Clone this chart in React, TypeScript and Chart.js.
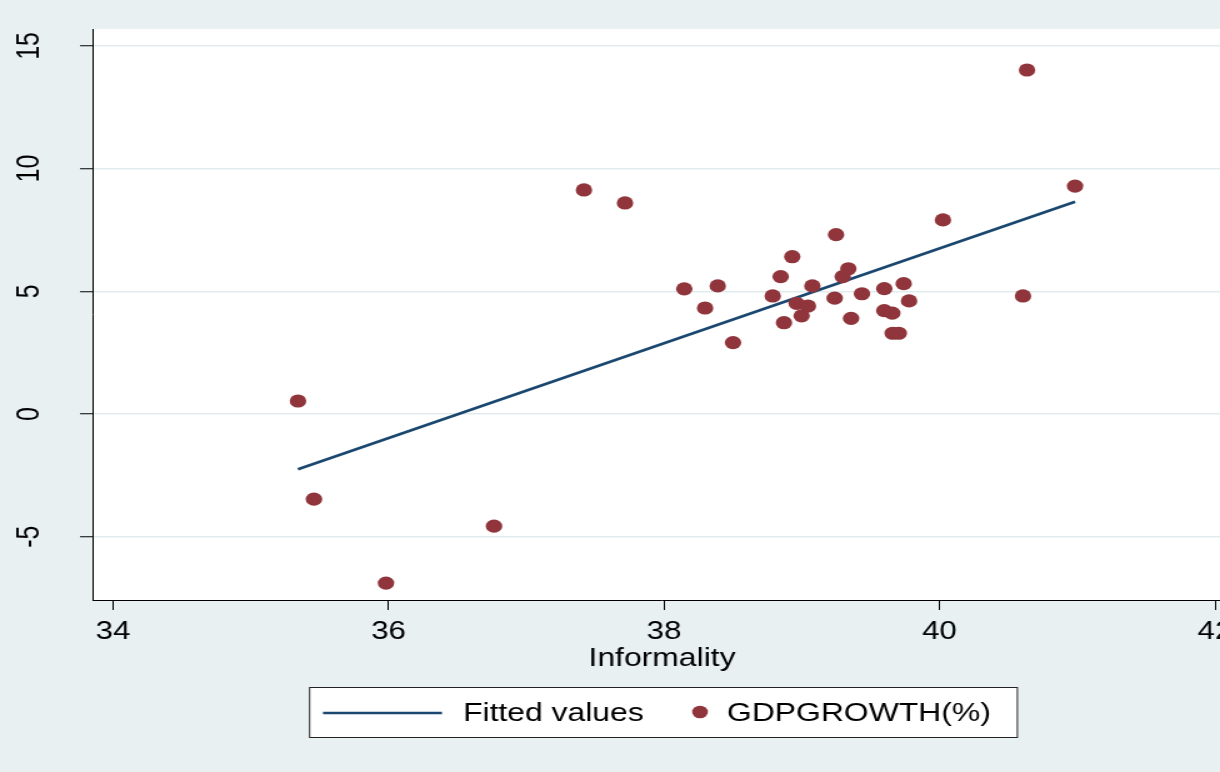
import React, { useEffect, useRef } from "react";
import { Chart, registerables } from "chart.js";

Chart.register(...registerables);

// ---- data ----
const informality = [
  35.343, 35.459, 35.982, 36.766, 37.419, 37.717, 38.147, 38.298, 38.39, 38.501,
  38.789, 38.847, 38.871, 38.931, 38.963, 38.999, 39.045, 39.077, 39.249, 39.239,
  39.297, 39.338, 39.358, 39.437, 39.599, 39.599, 39.657, 39.66, 39.704, 39.74,
  39.779, 40.025, 40.606, 40.635, 40.984,
];
const gdpGrowth = [
  0.53, -3.47, -6.89, -4.57, 9.13, 8.6, 5.1, 4.32, 5.22, 2.91,
  4.81, 5.6, 3.72, 6.41, 4.51, 4.0, 4.4, 5.22, 7.31, 4.72,
  5.6, 5.92, 3.9, 4.9, 5.11, 4.21, 4.11, 3.29, 3.29, 5.31,
  4.61, 7.91, 4.81, 14.02, 9.29,
];
const fittedX = [35.343, 40.984];
const fittedY = [-2.25, 8.65];
const xTicks = [34, 36, 38, 40, 42];
const yTicks = [-5, 0, 5, 10, 15];
const xTitle = "Informality";
const fittedLabel = "Fitted values";
const seriesLabel = "GDPGROWTH(%)";

// ---- styling ----
const NAVY = "#1A476F";
const MAROON = "#90353B";
const BG = "#E8F0F2";
const GRID = "#E2EBEE";
const FONT = '"Liberation Sans", Arial, Helvetica, sans-serif';

// horizontal stretch of the whole picture (as in the reference)
const SX = 1.25;
const W_ACT = 1260;
const H = 772;
const W = W_ACT / SX;

export default function App() {
  const ref = useRef<HTMLCanvasElement>(null);

  useEffect(() => {
    const canvas = ref.current;
    if (!canvas) return;

    const deco = {
      id: "deco",
      beforeDraw(chart: any) {
        const { ctx, chartArea: a } = chart;
        ctx.save();
        ctx.fillStyle = BG;
        ctx.fillRect(0, 0, chart.width, chart.height);
        ctx.fillStyle = "#ffffff";
        ctx.fillRect(a.left, a.top, a.right - a.left, a.bottom - a.top);
        ctx.restore();
      },
      afterDraw(chart: any) {
        const { ctx } = chart;
        const ys = chart.scales.y;
        ctx.save();
        ctx.fillStyle = "#000";
        ctx.font = `25px ${FONT}`;
        ctx.textAlign = "center";
        ctx.textBaseline = "middle";
        for (const v of yTicks) {
          const py = ys.getPixelForValue(v);
          ctx.save();
          ctx.translate(24, py);
          ctx.rotate(-Math.PI / 2);
          ctx.fillText(String(v), 0, 0);
          ctx.restore();
        }
        // legend
        const lx0 = 309 / SX, lx1 = 1018 / SX, ly0 = 687, ly1 = 738;
        ctx.fillStyle = "#ffffff";
        ctx.fillRect(lx0, ly0, lx1 - lx0, ly1 - ly0);
        ctx.strokeStyle = "#222";
        ctx.lineWidth = 1;
        ctx.strokeRect(lx0 + 0.5, ly0 + 0.5, lx1 - lx0 - 1, ly1 - ly0 - 1);
        ctx.strokeStyle = NAVY;
        ctx.lineWidth = 2.5;
        ctx.beginPath();
        ctx.moveTo(323 / SX, 713);
        ctx.lineTo(442 / SX, 713);
        ctx.stroke();
        ctx.fillStyle = MAROON;
        ctx.beginPath();
        ctx.arc(700 / SX, 712, 6.3, 0, Math.PI * 2);
        ctx.fill();
        ctx.fillStyle = "#000";
        ctx.font = `25.5px ${FONT}`;
        ctx.textAlign = "left";
        ctx.textBaseline = "middle";
        ctx.fillText(fittedLabel, 463 / SX, 714);
        ctx.fillText(seriesLabel, 727 / SX, 714);
        ctx.restore();
      },
    };

    const chart = new Chart(canvas, {
      type: "scatter",
      data: {
        datasets: [
          {
            label: seriesLabel,
            data: informality.map((x, i) => ({ x, y: gdpGrowth[i] })),
            backgroundColor: MAROON,
            borderWidth: 0,
            pointRadius: 6.6,
            pointHoverRadius: 6.6,
          },
          {
            label: fittedLabel,
            data: fittedX.map((x, i) => ({ x, y: fittedY[i] })),
            showLine: true,
            borderColor: NAVY,
            borderWidth: 2.6,
            pointRadius: 0,
            fill: false,
          } as any,
        ],
      },
      options: {
        responsive: false,
        animation: false,
        devicePixelRatio: 1,
        events: [],
        layout: { padding: { left: 0, right: W - 1231 / SX, top: 29, bottom: H - 600 - 80 } },
        plugins: { legend: { display: false }, tooltip: { enabled: false } },
        scales: {
          x: {
            type: "linear",
            min: 33.855,
            max: 42.116,
            afterBuildTicks: (s: any) => {
              s.ticks = xTicks.map((v) => ({ value: v }));
            },
            afterFit: (s: any) => {
              s.height = 80;
            },
            ticks: {
              color: "#000",
              font: { family: FONT, size: 25 },
              padding: 7,
              maxRotation: 0,
              minRotation: 0,
            },
            grid: {
              drawOnChartArea: false,
              drawTicks: true,
              tickLength: 10,
              tickColor: "#000",
              tickWidth: 1,
            },
            border: { display: true, color: "#000", width: 1 },
            title: {
              display: true,
              text: xTitle,
              color: "#000",
              font: { family: FONT, size: 25.5 },
              padding: { top: 0, bottom: 5.5 },
            },
          },
          y: {
            type: "linear",
            min: -7.58,
            max: 15.69,
            afterBuildTicks: (s: any) => {
              s.ticks = yTicks.map((v) => ({ value: v }));
            },
            afterFit: (s: any) => {
              s.width = 93 / SX;
            },
            ticks: { display: false },
            grid: {
              color: GRID,
              lineWidth: 1.5,
              drawTicks: true,
              tickLength: 13 / SX,
              tickColor: "#000",
              tickWidth: 1,
            },
            border: { display: true, color: "#000", width: 1 },
          },
        },
      },
      plugins: [deco],
    } as any);

    return () => chart.destroy();
  }, []);

  return (
    <div
      style={{
        position: "fixed",
        left: 0,
        top: 0,
        width: 1220,
        height: 772,
        overflow: "hidden",
        background: BG,
      }}
    >
      <canvas
        ref={ref}
        width={W}
        height={H}
        style={{ width: `${W_ACT}px`, height: `${H}px`, display: "block" }}
      />
    </div>
  );
}
